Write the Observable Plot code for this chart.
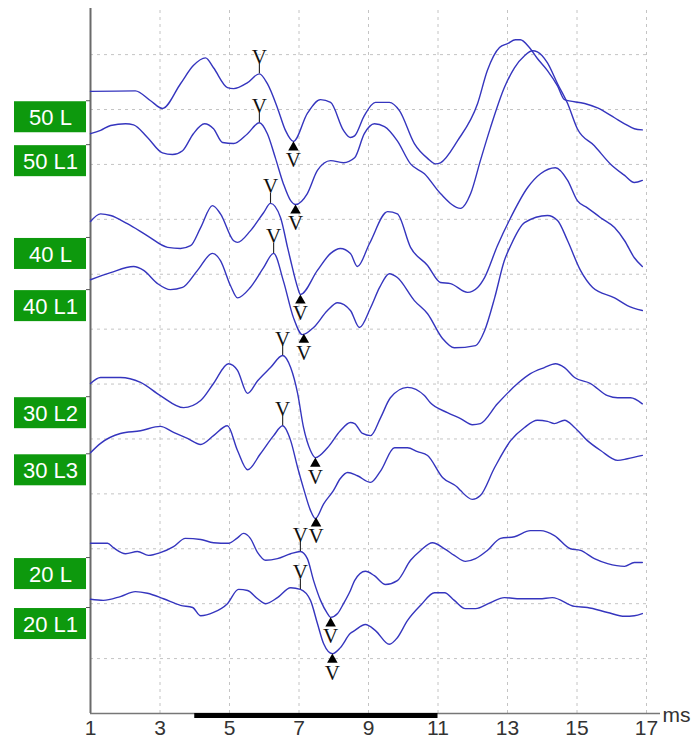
<!DOCTYPE html>
<html><head><meta charset="utf-8">
<script src="https://cdn.jsdelivr.net/npm/d3@7"></script>
<script src="https://cdn.jsdelivr.net/npm/@observablehq/plot@0.6"></script>
<style>body{margin:0;background:#fff}#chart svg{display:block}</style>
</head><body><div id="chart"></div>
<script>
// Trace labels, baselines (grid units) and wave V latencies (ms)
const labels = ["50 L", "50 L1", "40 L", "40 L1", "30 L2", "30 L3", "20 L", "20 L1"];
const baselines = [11.16, 10.36, 8.67, 7.72, 5.77, 4.73, 2.84, 1.93];
const peakLatency = [5.86, 5.86, 6.18, 6.27, 6.53, 6.53, 7.04, 7.04];
const troughLatency = [6.84, 6.90, 7.04, 7.14, 7.47, 7.49, 7.91, 7.96];
const xTicks = [1, 3, 5, 7, 9, 11, 13, 15, 17];
const gridX = [3, 5, 7, 9, 11, 13, 15, 17];
const gridY = [1, 2, 3, 4, 5, 6, 7, 8, 9, 10, 11, 12];
const stimulus = [4, 11];
const yTop = 12.84;

// Waveforms: [ms, amplitude in grid units]
const trace50L = [[1.00,11.33],[2.29,11.34],[2.73,11.16],[3.07,11.02],[3.59,11.47],[3.96,11.80],[4.31,11.94],[4.54,11.76],[4.94,11.40],[5.12,11.38],[5.52,11.49],[5.86,11.65],[6.09,11.47],[6.38,11.03],[6.61,10.62],[6.84,10.42],[7.24,10.93],[7.62,11.18],[7.91,11.13],[8.28,10.62],[8.48,10.49],[8.60,10.52],[8.88,10.89],[9.20,11.13],[9.60,11.13],[9.89,10.98],[10.32,10.38],[10.70,10.11],[10.93,10.01],[11.07,10.03],[11.56,10.43],[12.14,11.11],[12.42,11.71],[12.77,12.13],[13.00,12.20],[13.23,12.27],[13.37,12.27],[13.63,12.13],[13.86,11.93],[14.15,11.71],[14.44,11.43],[14.64,11.18],[15.22,11.11],[15.59,11.03],[16.08,10.85],[16.37,10.74],[16.65,10.65],[16.88,10.63]];
const trace50L1 = [[1.00,10.56],[1.29,10.62],[1.58,10.71],[2.01,10.74],[2.24,10.72],[2.64,10.49],[3.07,10.21],[3.36,10.18],[3.65,10.25],[3.96,10.56],[4.28,10.74],[4.54,10.65],[4.80,10.40],[5.12,10.38],[5.52,10.56],[5.86,10.76],[6.09,10.56],[6.32,10.12],[6.55,9.65],[6.76,9.34],[6.90,9.27],[7.24,9.47],[7.53,9.89],[7.91,10.07],[8.28,10.03],[8.60,10.12],[8.88,10.56],[9.17,10.74],[9.46,10.69],[9.83,10.43],[10.21,10.01],[10.61,9.83],[11.07,9.47],[11.65,9.20],[11.94,9.47],[12.22,10.07],[12.51,10.67],[12.91,11.40],[13.20,11.76],[13.49,11.98],[13.72,12.07],[13.86,12.05],[14.15,11.85],[14.44,11.47],[14.73,11.11],[15.01,10.65],[15.50,10.34],[15.96,10.01],[16.37,9.80],[16.65,9.67],[16.88,9.71]];
const trace40L = [[1.00,8.96],[1.29,9.10],[1.58,9.07],[2.06,8.92],[2.64,8.70],[3.22,8.49],[3.59,8.47],[3.88,8.52],[4.17,8.85],[4.51,9.25],[4.74,9.10],[5.12,8.61],[5.23,8.58],[5.60,8.79],[5.98,9.12],[6.18,9.29],[6.47,9.03],[6.67,8.49],[6.76,8.25],[6.96,7.76],[7.04,7.63],[7.53,8.07],[7.91,8.38],[8.19,8.47],[8.48,8.38],[8.68,8.14],[9.03,8.56],[9.55,9.14],[9.83,9.10],[10.21,8.49],[10.70,8.16],[11.07,7.85],[11.36,7.83],[11.85,7.67],[12.14,7.76],[12.34,7.94],[12.71,8.52],[13.09,9.03],[13.58,9.58],[13.95,9.83],[14.38,9.94],[14.73,9.71],[15.01,9.34],[15.30,9.21],[15.68,9.03],[16.08,8.85],[16.37,8.61],[16.65,8.30],[16.88,8.14]];
const trace40L1 = [[1.00,7.90],[1.58,8.03],[2.24,8.14],[2.53,8.07],[2.93,7.83],[3.30,7.72],[3.65,7.76],[4.08,8.07],[4.51,8.38],[4.74,8.25],[5.03,7.79],[5.23,7.57],[5.60,7.76],[5.98,8.12],[6.27,8.38],[6.55,7.88],[6.84,7.21],[7.10,6.90],[7.42,7.03],[7.82,7.34],[8.11,7.48],[8.48,7.34],[8.74,7.03],[9.06,7.39],[9.32,7.76],[9.60,8.01],[9.83,7.94],[10.32,7.52],[10.70,7.28],[11.13,6.83],[11.47,6.66],[12.08,6.70],[12.34,6.97],[12.63,7.57],[12.91,8.25],[13.09,8.52],[13.49,8.94],[14.15,9.07],[14.44,8.98],[14.73,8.61],[15.10,8.07],[15.45,7.76],[16.08,7.57],[16.45,7.43],[16.88,7.34]];
const trace30L2 = [[1.00,6.01],[1.29,6.12],[1.86,6.12],[2.44,6.03],[3.01,5.79],[3.68,5.57],[4.17,5.70],[4.54,6.01],[4.97,6.37],[5.23,6.25],[5.52,5.83],[5.81,6.06],[6.18,6.30],[6.53,6.52],[6.76,6.30],[6.96,5.83],[7.13,5.21],[7.33,4.79],[7.47,4.66],[7.82,4.84],[8.19,5.15],[8.48,5.30],[8.60,5.28],[8.83,5.10],[9.06,5.06],[9.35,5.39],[9.63,5.75],[10.12,5.94],[10.61,5.79],[10.78,5.66],[11.27,5.48],[11.65,5.37],[11.99,5.26],[12.22,5.28],[12.71,5.64],[13.29,6.01],[13.66,6.19],[14.06,6.30],[14.38,6.37],[14.64,6.30],[14.93,6.12],[15.39,6.01],[15.88,5.79],[16.17,5.75],[16.54,5.75],[16.88,5.64]];
const trace30L3 = [[1.00,4.75],[1.29,4.92],[1.86,5.10],[2.44,5.15],[3.01,5.23],[3.39,5.12],[3.79,5.01],[4.17,4.90],[4.54,5.06],[4.94,5.24],[5.23,4.79],[5.52,4.44],[5.89,4.73],[6.27,5.06],[6.53,5.24],[6.76,4.97],[6.96,4.48],[7.13,4.10],[7.33,3.70],[7.47,3.55],[7.71,3.82],[7.99,4.06],[8.19,4.28],[8.40,4.39],[8.68,4.33],[9.06,4.21],[9.35,4.42],[9.75,4.84],[10.12,4.84],[10.41,4.77],[10.70,4.70],[11.13,4.30],[11.56,4.12],[11.65,4.06],[11.99,3.90],[12.22,3.97],[12.63,4.48],[13.09,4.97],[13.49,5.21],[13.86,5.34],[14.15,5.32],[14.35,5.28],[14.64,5.34],[14.93,5.21],[15.30,4.97],[15.68,4.79],[16.17,4.61],[16.45,4.64],[16.88,4.70]];
const trace20L = [[1.00,3.10],[1.49,3.10],[1.66,3.02],[2.01,2.91],[2.35,2.95],[2.67,2.88],[3.01,2.93],[3.39,3.04],[3.73,3.19],[4.17,3.17],[4.54,3.11],[4.97,3.10],[5.23,3.20],[5.40,3.28],[5.60,3.19],[5.81,2.93],[6.04,2.79],[6.38,2.82],[6.76,2.91],[7.04,2.95],[7.24,2.82],[7.42,2.42],[7.62,2.06],[7.82,1.82],[7.91,1.75],[8.11,1.82],[8.28,2.00],[8.48,2.24],[8.60,2.42],[8.91,2.59],[9.17,2.51],[9.49,2.35],[9.83,2.42],[10.21,2.79],[10.50,2.97],[10.84,3.11],[11.19,3.00],[11.47,2.88],[11.79,2.77],[12.08,2.82],[12.42,2.97],[12.80,3.19],[13.20,3.22],[13.66,3.33],[13.95,3.33],[14.35,3.24],[14.81,3.00],[15.10,2.97],[15.50,2.82],[15.88,2.73],[16.37,2.68],[16.65,2.75],[16.88,2.75]];
const trace20L1 = [[1.00,2.08],[1.37,2.06],[1.86,2.13],[2.29,2.22],[2.64,2.19],[3.10,2.09],[3.59,1.97],[3.94,1.93],[4.17,1.78],[4.54,1.84],[4.94,2.00],[5.26,2.26],[5.52,2.24],[5.81,2.09],[6.04,2.00],[6.38,2.11],[6.76,2.29],[7.04,2.26],[7.33,2.06],[7.53,1.64],[7.71,1.27],[7.96,1.09],[8.19,1.20],[8.48,1.46],[8.60,1.51],[8.91,1.62],[9.20,1.51],[9.60,1.26],[9.83,1.38],[10.12,1.69],[10.50,1.97],[10.90,2.20],[11.19,2.20],[11.47,2.06],[11.79,1.91],[12.08,1.91],[12.51,2.02],[12.91,2.11],[13.37,2.09],[13.92,2.09],[14.29,2.11],[14.93,1.95],[15.30,1.93],[15.88,1.84],[16.37,1.77],[16.65,1.78],[16.88,1.82]];

const traces = [trace50L, trace50L1, trace40L, trace40L1, trace30L2, trace30L3, trace20L, trace20L1];

const rows = traces.flatMap((t, i) => t.map(([ms, v]) => ({label: labels[i], ms, v})));
function at(trace, ms) {
  for (let k = 1; k < trace.length; k++) {
    const [x0, y0] = trace[k - 1], [x1, y1] = trace[k];
    if (ms <= x1) return y0 + (y1 - y0) * (ms - x0) / (x1 - x0);
  }
  return trace[trace.length - 1][1];
}
const peaks = traces.map((t, i) => ({ms: peakLatency[i], v: at(t, peakLatency[i])}));
const troughs = traces.map((t, i) => ({ms: troughLatency[i], v: at(t, troughLatency[i])}));
const labelRows = labels.map((label, i) => ({label, base: baselines[i]}));

const serif = "'Liberation Serif', 'DejaVu Serif', serif";
const grid = {stroke: "#c4c4c4", strokeDasharray: "3,4", strokeWidth: 1};

const chart = Plot.plot({
  width: 697,
  height: 745,
  marginLeft: 90,
  marginRight: 51,
  marginTop: 8,
  marginBottom: 32,
  x: {domain: [1, 17]},
  y: {domain: [0, yTop], axis: null},
  style: {fontFamily: "'Liberation Sans', Arial, sans-serif", background: "white", color: "#333"},
  marks: [
    Plot.ruleX(gridX, {...grid, y1: 0, y2: yTop}),
    Plot.ruleY(gridY, {...grid, x1: 1, x2: 17}),
    Plot.ruleX([1], {y1: 0, y2: yTop, stroke: "#6a6a6a", strokeWidth: 2}),
    Plot.ruleY(baselines, {x1: () => 1, x2: () => 1, insetLeft: -4, stroke: "#555", strokeWidth: 1}),
    Plot.ruleY([0], {x1: () => 1, x2: () => 17, insetRight: -14, stroke: "#777", strokeWidth: 1.5}),
    Plot.ruleY([0], {x1: () => stimulus[0], x2: () => stimulus[1], stroke: "black", strokeWidth: 5, dy: 2}),
    Plot.axisX(xTicks, {tickSize: 0, tickPadding: 7, fontSize: 21, label: null, fill: "#333"}),
    Plot.text(["ms"], {x: () => 17, y: () => 0, dx: 16, dy: 2, textAnchor: "start", lineAnchor: "middle", fontSize: 21, fill: "#333"}),
    Plot.line(rows, {x: "ms", y: "v", z: "label", stroke: "#3535be", strokeWidth: 1.4, curve: "monotone-x"}),
    Plot.ruleX(peaks, {x: "ms", y1: "v", y2: "v", insetTop: -10, stroke: "#222", strokeWidth: 1.1}),
    Plot.text(peaks, {x: "ms", y: "v", text: () => "V", dy: -10, lineAnchor: "bottom", fontSize: 21, fontFamily: serif, fill: "#111"}),
    Plot.dot(troughs, {x: "ms", y: "v", symbol: "triangle", r: 3.9, fill: "black", stroke: "none", dy: 6}),
    Plot.text(troughs, {x: "ms", y: "v", text: () => "V", dy: 11, lineAnchor: "top", fontSize: 21, fontFamily: serif, fill: "#111"}),
    Plot.rect(labelRows, {x1: () => 1, x2: () => 1, y1: "base", y2: "base", insetLeft: -76, insetRight: 4, insetTop: 1, insetBottom: -32, fill: "#0d990d"}),
    Plot.text(labelRows, {x: () => 1, y: "base", text: "label", dx: -40, dy: 17, textAnchor: "middle", lineAnchor: "middle", fontSize: 22, fill: "white"})
  ]
});
document.getElementById("chart").append(chart);
</script>
</body></html>
